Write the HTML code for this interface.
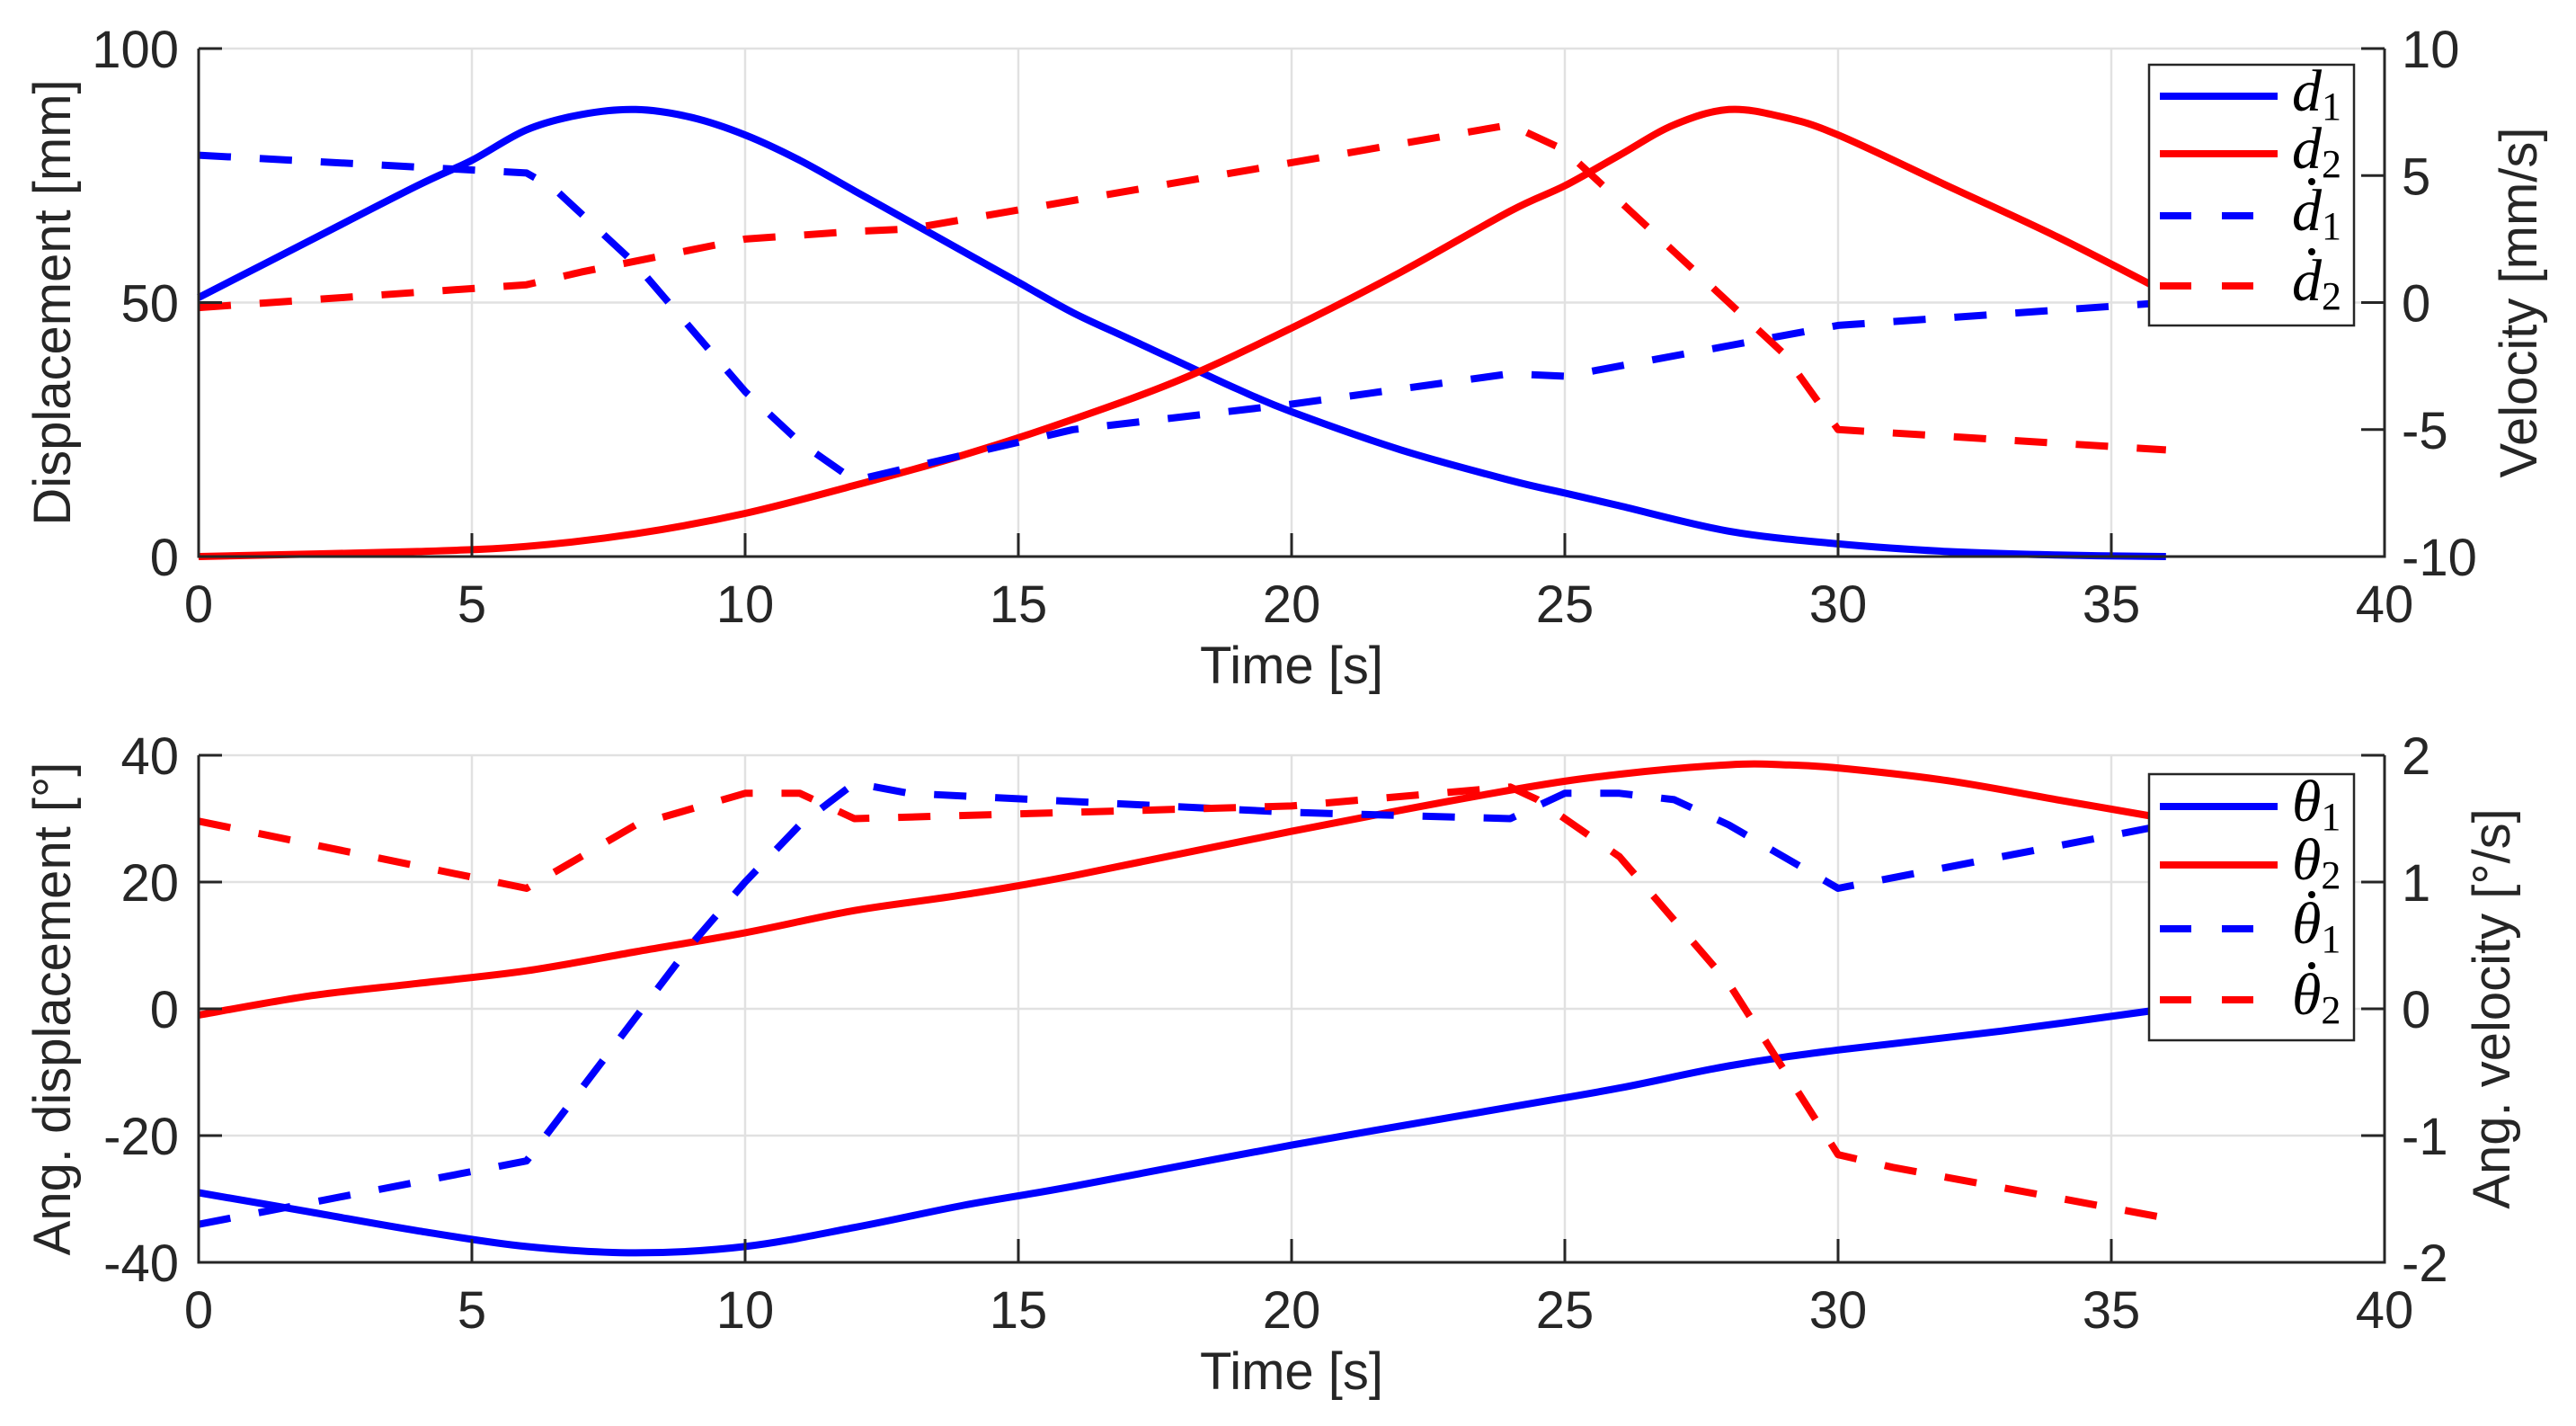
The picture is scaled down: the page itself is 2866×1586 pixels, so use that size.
<!DOCTYPE html>
<html><head><meta charset="utf-8"><style>
html,body{margin:0;padding:0;background:#fff;}
svg{display:block;}
text{font-family:"Liberation Sans",sans-serif;fill:#262626;}
.leg{font-family:"Liberation Serif",serif;font-style:italic;fill:#000;}
</style></head><body>
<svg id="chart" width="2866" height="1586" viewBox="0 0 2866 1586" xmlns="http://www.w3.org/2000/svg"></svg>
<script>
// ---- data: top panel ----
const d1T = [0,2,4,5,6,7,8,9,10,11,12,13,14,15,16,17,18,19,20,22,24,25,26,28,30,32,34,36];
const d1V = [51,62,73,78,84,87,88,86.5,83,78,72,66,60,54,48,43,38,33,28.5,21,15,12.5,10,5,2.5,1,0.3,0];
const d2T = [0,4,6,8,10,12,14,16,18,20,22,24,25,26,27,28,29,30,32,34,36];
const d2V = [0,1,2,4.5,8.5,14,20,27,35,45,56,68,73,79,85,88,86.5,83,73,63,52];
const d1dT = [0,6,6.5,8,10,11,12,14,16,20,24,25,28,30,36];
const d1dV = [5.8,5.1,4.5,1.5,-3.5,-5.5,-7,-6,-5,-4,-2.8,-2.9,-1.7,-0.9,0];
const d2dT = [0,6,7,10,12,13,24,25,26,27,28,29,30,36];
const d2dV = [-0.2,0.7,1.2,2.5,2.8,2.9,7,6,4,2,0,-2,-5,-5.8];
// ---- data: bottom panel ----
const th1T = [0,2,4,6,8,10,12,14,16,20,24,26,28,30,33,36];
const th1V = [-29,-32,-35,-37.5,-38.5,-37.5,-34.5,-31,-28,-21.5,-15.5,-12.5,-9,-6.5,-3.5,0];
const th2T = [0,2,4,6,8,10,12,14,16,20,24,26,28,29,30,32,34,36];
const th2V = [-1,2,4,6,9,12,15.5,18,21,28,34.5,37,38.5,38.5,38,36,33,30];
const th1dT = [0,6,9,10,11,12,13,20,24,25,26,27,28,30,36];
const th1dV = [-1.7,-1.2,0.5,1,1.45,1.78,1.7,1.55,1.5,1.7,1.7,1.65,1.45,0.95,1.45];
const th2dT = [0,6,8,10,11,12,20,24,24.5,26,28,30,31,36];
const th2dV = [1.48,0.95,1.45,1.7,1.7,1.5,1.6,1.75,1.65,1.2,0.2,-1.15,-1.25,-1.65];
const xTicks = [0,5,10,15,20,25,30,35,40];
const topLTicks = [0,50,100];
const topRTicks = [-10,-5,0,5,10];
const botLTicks = [-40,-20,0,20,40];
const botRTicks = [-2,-1,0,1,2];

const NS = "http://www.w3.org/2000/svg";
const svg = document.getElementById('chart');
function mk(tag, attrs, parent){const e=document.createElementNS(NS,tag);for(const k in attrs)e.setAttribute(k,attrs[k]);(parent||svg).appendChild(e);return e;}
const X0=221, X1=2653;
function smoothPath(P){
  let d='M'+P[0][0].toFixed(1)+','+P[0][1].toFixed(1);
  for(let i=0;i<P.length-1;i++){
    const p0=P[Math.max(0,i-1)],p1=P[i],p2=P[i+1],p3=P[Math.min(P.length-1,i+2)];
    const c1=[p1[0]+(p2[0]-p0[0])/6,p1[1]+(p2[1]-p0[1])/6];
    const c2=[p2[0]-(p3[0]-p1[0])/6,p2[1]-(p3[1]-p1[1])/6];
    d+=` C${c1[0].toFixed(1)},${c1[1].toFixed(1)} ${c2[0].toFixed(1)},${c2[1].toFixed(1)} ${p2[0].toFixed(1)},${p2[1].toFixed(1)}`;
  }
  return d;
}
function panel(cfg){
  const g=mk('g',{});
  
  
  const xs=t=>X0+(t-0)/40*(X1-X0);
  const yl=v=>cfg.y0-(v-cfg.lmin)/(cfg.lmax-cfg.lmin)*(cfg.y0-cfg.y1);
  const yr=v=>cfg.y0-(v-cfg.rmin)/(cfg.rmax-cfg.rmin)*(cfg.y0-cfg.y1);
  xTicks.forEach(t=>{const l=mk('line',{x1:xs(t),x2:xs(t),y1:cfg.y0,y2:cfg.y1,stroke:'#e1e1e1','stroke-width':2.5},g);
    });
  cfg.lt.forEach(v=>{const l=mk('line',{x1:X0,x2:X1,y1:yl(v),y2:yl(v),stroke:'#e1e1e1','stroke-width':2.5},g);
    });
  function series(T,V,yf,color,dash,nm){
    const P=T.map((t,i)=>[xs(t),yf(V[i])]);
    const d=dash?P.map((p,i)=>(i?'L':'M')+p[0].toFixed(1)+','+p[1].toFixed(1)).join(' '):smoothPath(P);
    const p=mk('path',{d:d,fill:'none',stroke:color,'stroke-width':8,'stroke-linejoin':'round','stroke-dasharray':dash?'36 32':'none'},g);
    
  }
  cfg.series.forEach(s=>series(s[0],s[1],s[2]==='L'?yl:yr,s[3],s[4],s[5]));
  const ax=mk('path',{d:`M${X0},${cfg.y1} L${X0},${cfg.y0} L${X1},${cfg.y0} L${X1},${cfg.y1}`,fill:'none',stroke:'#262626','stroke-width':3},g);
  
  xTicks.forEach(t=>{
    mk('line',{x1:xs(t),x2:xs(t),y1:cfg.y0,y2:cfg.y0-26,stroke:'#262626','stroke-width':3},g);
    const tx=mk('text',{x:xs(t),y:cfg.y0+73,'text-anchor':'middle','font-size':58},g);tx.textContent=t;
    
  });
  cfg.lt.forEach(v=>{
    mk('line',{x1:X0,x2:X0+26,y1:yl(v),y2:yl(v),stroke:'#262626','stroke-width':3},g);
    const tx=mk('text',{x:199,y:yl(v)+21,'text-anchor':'end','font-size':58},g);tx.textContent=v;
    
  });
  cfg.rt.forEach(v=>{
    mk('line',{x1:X1,x2:X1-26,y1:yr(v),y2:yr(v),stroke:'#262626','stroke-width':3},g);
    const tx=mk('text',{x:2672,y:yr(v)+21,'text-anchor':'start','font-size':58},g);tx.textContent=v;
    
  });
  const xt=mk('text',{x:(X0+X1)/2,y:cfg.y0+141,'text-anchor':'middle','font-size':58},g);xt.textContent='Time [s]';
  
  const cy=(cfg.y0+cfg.y1)/2;
  const lt=mk('text',{x:0,y:0,'text-anchor':'middle','font-size':58,transform:`translate(${cfg.lx},${cy}) rotate(-90)`,'xml:space':'preserve'},g);lt.textContent=cfg.ltitle;
  
  const rt=mk('text',{x:0,y:0,'text-anchor':'middle','font-size':58,transform:`translate(${cfg.rx},${cy}) rotate(-90)`,'xml:space':'preserve'},g);rt.textContent=cfg.rtitle;
  
  const L=cfg.leg;
  const lg=mk('g',{},g);
  
  mk('rect',{x:L.x,y:L.y,width:228,height:L.h,fill:'#fff',stroke:'#262626','stroke-width':2.5},lg);
  cfg.series.forEach((s,i)=>{
    const yy=L.rows[i];
    const ln=mk('line',{x1:2403,x2:2534,y1:yy,y2:yy,stroke:s[3],'stroke-width':8,'stroke-dasharray':s[4]?'35 34':'none'},lg);
    
    const tx=mk('text',{x:2550,y:yy+16,'font-size':66,class:'leg'},lg);
    
    const base=mk('tspan',{},tx);base.textContent=L.labels[i];
    const sub=mk('tspan',{dy:10,'font-size':44,'font-style':'normal'},tx);sub.textContent=L.subs[i];
    if(i>=2){
      const dot=mk('circle',{cx:2572,cy:yy-38,r:4,fill:'#000'},lg);
      
    }
  });
}
panel({name:'top-panel',y0:619,y1:54,lmin:0,lmax:100,rmin:-10,rmax:10,lt:topLTicks,rt:topRTicks,
  lx:78,rx:2822,ltitle:'Displacement [mm]',rtitle:'Velocity [mm/s]',
  series:[[d1T,d1V,'L','#0000ff',false,'d1-line'],[d2T,d2V,'L','#ff0000',false,'d2-line'],
          [d1dT,d1dV,'R','#0000ff',true,'d1dot-line'],[d2dT,d2dV,'R','#ff0000',true,'d2dot-line']],
  leg:{x:2391,y:72,h:290,rows:[107,171,240,318],labels:['d','d','d','d'],subs:['1','2','1','2']}});
panel({name:'bottom-panel',y0:1404,y1:840,lmin:-40,lmax:40,rmin:-2,rmax:2,lt:botLTicks,rt:botRTicks,
  lx:78,rx:2792,ltitle:'Ang.  displacement  [°]',rtitle:'Ang.  velocity  [°/s]',
  series:[[th1T,th1V,'L','#0000ff',false,'theta1-line'],[th2T,th2V,'L','#ff0000',false,'theta2-line'],
          [th1dT,th1dV,'R','#0000ff',true,'theta1dot-line'],[th2dT,th2dV,'R','#ff0000',true,'theta2dot-line']],
  leg:{x:2391,y:861,h:296,rows:[897,962,1033,1112],labels:['\u03B8','\u03B8','\u03B8','\u03B8'],subs:['1','2','1','2']}});
</script>
</body></html>
